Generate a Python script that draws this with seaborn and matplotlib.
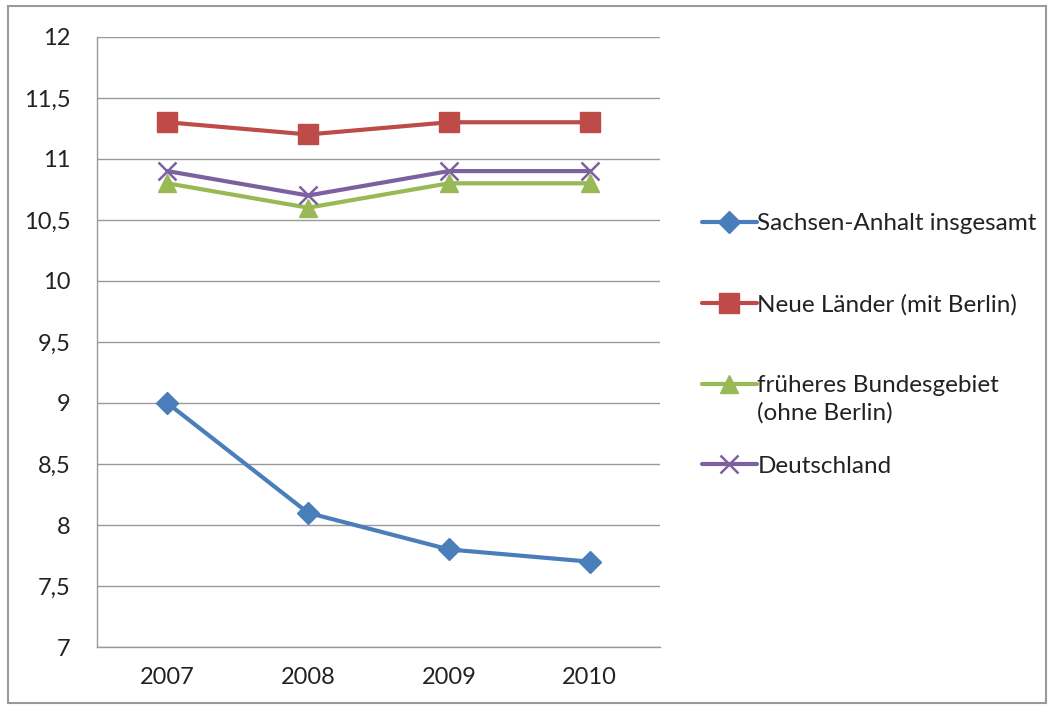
import numpy as np
import pandas as pd
import matplotlib
matplotlib.use("Agg")
import matplotlib.pyplot as plt
import seaborn as sns
from matplotlib.patches import Rectangle
from matplotlib.ticker import FixedLocator, FuncFormatter

years = ["2007", "2008", "2009", "2010"]
sachsen_anhalt = [9.0, 8.1, 7.8, 7.7]
neue_laender = [11.3, 11.2, 11.3, 11.3]
frueheres_bg = [10.8, 10.6, 10.8, 10.8]
deutschland = [10.9, 10.7, 10.9, 10.9]

series_names = ["Sachsen-Anhalt insgesamt", "Neue Länder (mit Berlin)",
                "früheres Bundesgebiet", "Deutschland"]
frueheres_zusatz = "(ohne Berlin)"
colors = ["#4A7EBB", "#BE4B48", "#98B954", "#7D60A0"]
markers = ["D", "s", "^", "x"]
msizes = [11, 14, 13, 13]

sns.set_style("white")
plt.rcParams["font.family"] = ["Lato", "DejaVu Sans"]

fig = plt.figure(figsize=(10.53, 7.08), dpi=100)
ax = fig.add_axes([0.092, 0.086, 0.535, 0.862])

for name, vals, c, m, ms in zip(series_names,
                                [sachsen_anhalt, neue_laender, frueheres_bg, deutschland],
                                colors, markers, msizes):
    d = pd.DataFrame({"pos": range(len(years)), "wert": vals})
    sns.lineplot(data=d, x="pos", y="wert", color=c, marker=m, markersize=ms,
                 markeredgecolor=c, markeredgewidth=1.8 if m == "x" else 1,
                 linewidth=3, label=name, ax=ax)

ax.set_xlim(-0.5, 3.5)
ax.set_ylim(7, 12)
ax.set_yticks(np.arange(7, 12.01, 0.5))
ax.yaxis.set_major_formatter(FuncFormatter(lambda v, p: ("%g" % v).replace(".", ",")))
ax.set_xticks(range(4))
ax.set_xticklabels(years)
ax.xaxis.set_minor_locator(FixedLocator([-0.5, 0.5, 1.5, 2.5, 3.5]))
ax.tick_params(axis="x", which="major", length=0, labelsize=17, pad=14, colors="#222222")
ax.tick_params(axis="x", which="minor", length=7, width=1, color="#999999", direction="out")
ax.tick_params(axis="y", which="major", length=7, width=1, color="#999999", direction="out",
               labelsize=17, pad=12, labelcolor="#222222")
ax.grid(axis="y", color="#999999", linewidth=1)
ax.set_axisbelow(True)
for s in ["top", "right"]:
    ax.spines[s].set_visible(False)
for s in ["left", "bottom"]:
    ax.spines[s].set_color("#999999")
    ax.spines[s].set_linewidth(1)
ax.set_xlabel("")
ax.set_ylabel("")

handles, labels = ax.get_legend_handles_labels()
leg = ax.legend(handles, labels, loc="center left", bbox_to_anchor=(1.056, 0.495),
                frameon=False, fontsize=17.5, labelspacing=2.45, handlelength=2.3,
                handletextpad=0.0, borderaxespad=0)
for t in leg.get_texts():
    t.set_color("#222222")

# second line of the third legend entry sits below its first line
ax.annotate(frueheres_zusatz, xy=(0, 0), xycoords=leg.get_texts()[2],
            xytext=(0, -6), textcoords="offset pixels", ha="left", va="top",
            fontsize=17.5, color="#222222", zorder=10, annotation_clip=False)

fig.patches.append(Rectangle((8 / 1053, 5 / 708), 1038 / 1053, 697 / 708,
                             transform=fig.transFigure, fill=False,
                             edgecolor="#999999", linewidth=1.5))

fig.savefig("out.png", dpi=100)
